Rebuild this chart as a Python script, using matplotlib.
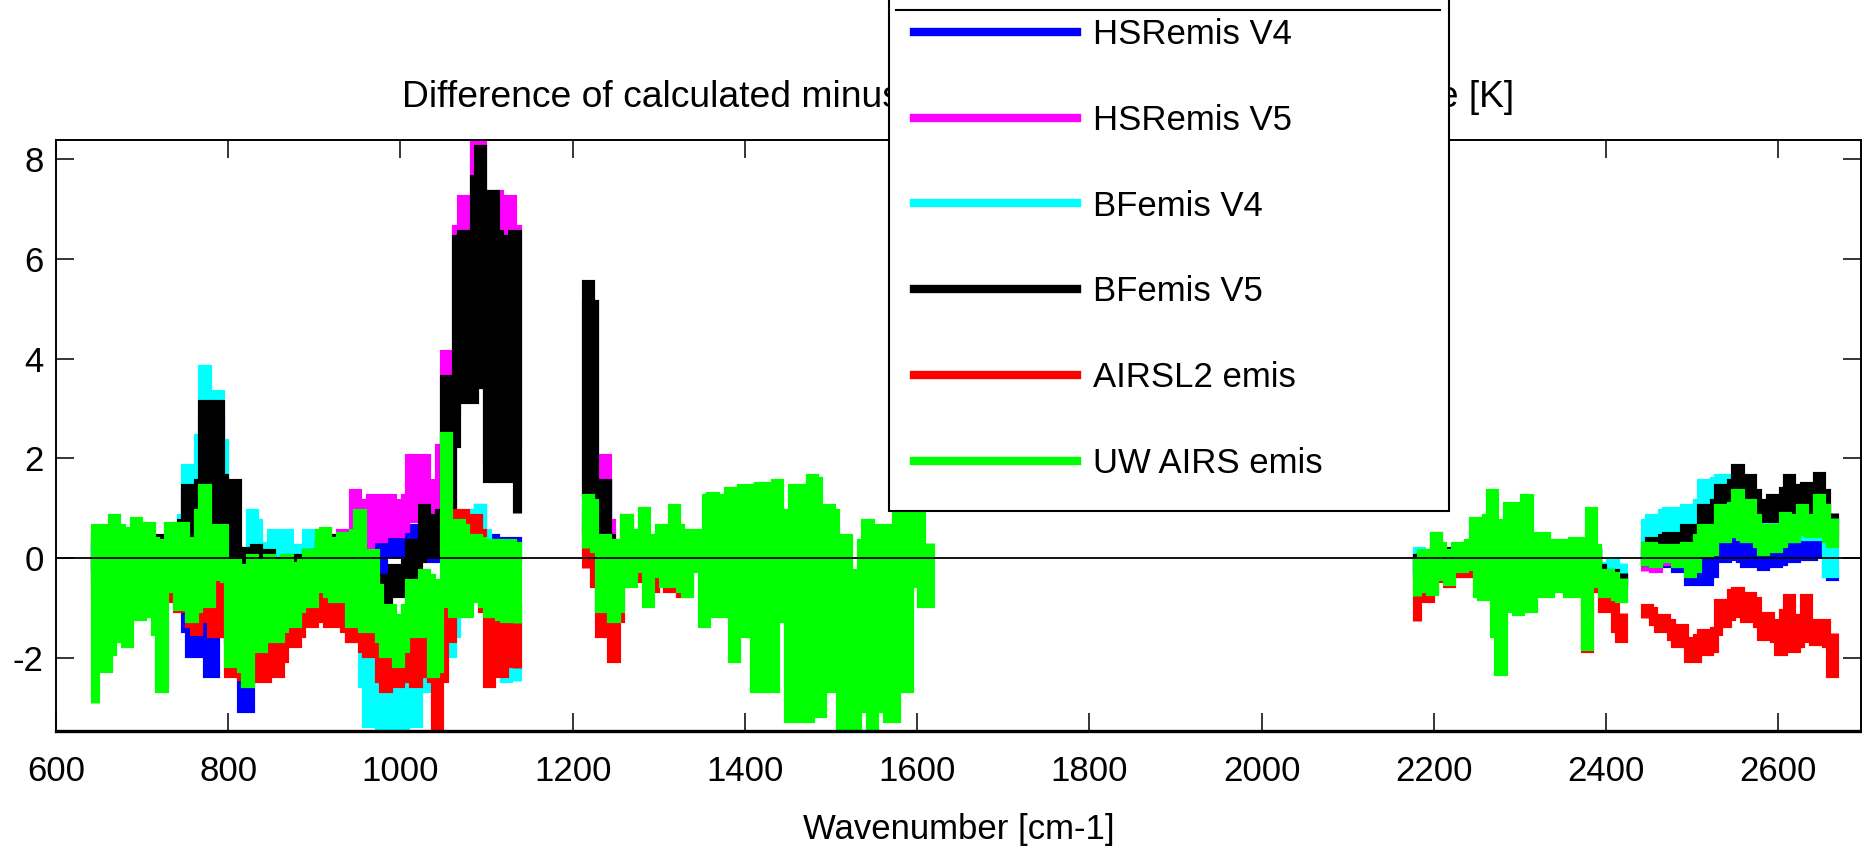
"""
Difference of calculated minus observed brightness temperature for six
emissivity sets, AIRS spectrum 650-2665 cm-1.
"""

import numpy as np
import matplotlib.pyplot as plt
from matplotlib.lines import Line2D
from matplotlib.patches import Rectangle

plt.rcParams['font.family'] = ['Liberation Sans', 'DejaVu Sans']
plt.rcParams['axes.unicode_minus'] = False

# =============================================================================
# Data: wavenumber grids per spectral segment, and (low, high) envelope of each
# curve at every grid point
# =============================================================================
WN_A = [645, 655, 665, 675, 685, 695, 705, 715, 725, 735,
        745, 755, 765, 775, 785, 795, 805, 815, 825, 835,
        845, 855, 865, 875, 885, 895, 905, 915, 925, 935,
        945, 955, 965, 975, 985, 995, 1005, 1015, 1025, 1035,
        1045, 1055, 1065, 1075, 1085, 1095, 1105, 1115, 1125, 1135]
WN_B = [1215, 1225, 1235, 1245, 1255, 1265, 1275, 1285, 1295, 1305,
        1315, 1325, 1335, 1345, 1355, 1365, 1375, 1385, 1395, 1405,
        1415, 1425, 1435, 1445, 1455, 1465, 1475, 1485, 1495, 1505,
        1515, 1525, 1535, 1545, 1555, 1565, 1575, 1585, 1595, 1605, 1615]
WN_C = [2180, 2190, 2200, 2210, 2220, 2230, 2240, 2250, 2260, 2270,
        2280, 2290, 2300, 2310, 2320, 2330, 2340, 2350, 2360, 2370,
        2380, 2390, 2400, 2410, 2420]
WN_D = [2445, 2455, 2465, 2475, 2485, 2495, 2505, 2515, 2525, 2535,
        2545, 2555, 2565, 2575, 2585, 2595, 2605, 2615, 2625, 2635,
        2645, 2655, 2665]

# HSRemis V4
hsr4_a = [(-0.5, 0.2), (-0.5, 0.2), (-0.5, 0.2), (-0.5, 0.2), (-0.5, 0.2),
          (-0.5, 0.2), (-0.5, 0.2), (-0.5, 0.2), (-0.5, 0.2), (-0.6, 0.1),
          (-0.8, 0.1), (-1.9, -1.4), (-1.9, -1.0), (-2.3, 0.0), (-2.3, -0.1),
          (-1.5, -0.8), (-1.6, -0.8), (-3.0, -2.1), (-3.0, -1.8), (-1.8, -0.8),
          (-1.0, -0.3), (-1.0, -0.3), (-1.0, -0.3), (-0.9, -0.3), (-0.8, -0.3),
          (-0.8, -0.4), (-0.8, -0.4), (-0.8, -0.4), (-0.6, -0.3), (-0.5, -0.2),
          (-0.4, 0.0), (-0.3, 0.2), (-0.6, 0.1), (-0.3, 0.5), (0.1, 0.55),
          (0.1, 0.55), (0.1, 0.6), (0.1, 0.6), (0.1, 0.5), (0.0, 0.3),
          (0.0, 0.3), (-0.2, 0.3), (0.0, 0.5), (0.1, 0.8), (0.2, 0.9),
          (0.3, 1.0), (-0.05, 0.4), (-0.1, 0.35), (-0.1, 0.35), (-0.1, 0.35)]
hsr4_b = [(0.5, 1.0), (0.0, 1.5), (-0.1, 1.5), (-0.2, 0.2)]
hsr4_c = [(-0.3, 0.0), (-0.2, 0.05), (-0.2, 0.1), (-0.2, 0.1), (-0.2, 0.1),
          (-0.25, 0.0), (-0.25, 0.0), (-0.2, 0.1), (-0.2, 0.1), (-0.2, 0.1),
          (-0.2, 0.1), (-0.2, 0.1), (-0.2, 0.1), (-0.2, 0.1), (-0.2, 0.1),
          (-0.2, 0.1), (-0.2, 0.1), (-0.2, 0.1), (-0.2, 0.1), (-0.2, 0.1),
          (-0.2, 0.1), (-0.2, 0.1), (-0.4, -0.2), (-0.45, -0.3), (-0.45, -0.3)]
hsr4_d = [(-0.05, 0.15), (-0.1, 0.1), (-0.1, 0.1), (-0.1, 0.1), (-0.2, 0.0),
          (-0.45, -0.05), (-0.45, -0.05), (-0.45, 0.1), (-0.3, 0.3), (0.0, 0.4),
          (0.05, 0.45), (0.0, 0.55), (-0.1, 0.6), (-0.1, 0.3), (-0.15, 0.3),
          (-0.1, 0.3), (-0.05, 0.35), (0.0, 0.45), (0.05, 0.4), (0.05, 0.35),
          (0.1, 0.4), (-0.3, 0.3), (-0.35, -0.2)]

# HSRemis V5
hsr5_a = [(-0.3, 0.3), (-0.3, 0.3), (-0.3, 0.3), (-0.3, 0.3), (-0.3, 0.3),
          (-0.3, 0.3), (-0.3, 0.3), (-0.3, 0.3), (-0.3, 0.3), (-0.3, 0.3),
          (-0.1, 0.5), (0.0, 1.3), (0.0, 1.4), (0.0, 2.8), (-0.2, 2.8),
          (-0.2, 1.4), (-0.5, 0.2), (-0.6, 0.0), (-0.6, 0.0), (-0.5, 0.0),
          (-0.5, 0.0), (-0.5, -0.1), (-0.5, -0.1), (-0.4, 0.0), (-0.4, 0.0),
          (-0.4, 0.2), (-0.4, 0.5), (-0.4, 0.4), (-0.3, 0.4), (-0.3, 0.5),
          (-0.2, 1.3), (-0.2, 1.1), (0.2, 1.2), (0.4, 1.2), (0.5, 1.2),
          (0.5, 1.1), (0.6, 1.2), (0.8, 2.0), (0.8, 2.0), (0.8, 1.5),
          (1.2, 2.2), (1.0, 4.1), (3.0, 6.6), (3.5, 7.2), (3.5, 8.3),
          (3.5, 8.4), (2.0, 7.3), (2.0, 7.3), (2.0, 7.2), (2.2, 6.6)]
hsr5_b = [(1.3, 5.1), (0.9, 5.1), (0.6, 2.0), (-0.2, 0.7)]
hsr5_c = [(-0.4, -0.1), (-0.3, 0.0), (-0.3, 0.1), (-0.3, 0.1), (-0.3, 0.1),
          (-0.3, 0.1), (-0.3, 0.1), (-0.3, 0.1), (-0.3, 0.1), (-0.3, 0.1),
          (-0.3, 0.1), (-0.3, 0.1), (-0.3, 0.1), (-0.3, 0.1), (-0.3, 0.1),
          (-0.3, 0.1), (-0.3, 0.1), (-0.3, 0.1), (-0.3, 0.1), (-0.3, 0.1),
          (-0.3, 0.1), (-0.3, 0.1), (-0.7, -0.4), (-0.8, -0.6), (-0.8, -0.6)]
hsr5_d = [(-0.25, 0.1), (-0.2, 0.1), (-0.05, 0.3), (-0.05, 0.3), (0.0, 0.3),
          (0.0, 0.35), (0.0, 0.4), (0.1, 0.6), (0.2, 0.7), (0.4, 1.1),
          (0.5, 1.1), (0.45, 1.3), (0.4, 1.1), (0.3, 0.9), (0.3, 0.8),
          (0.3, 0.8), (0.35, 0.9), (0.4, 0.95), (0.5, 1.0), (0.5, 0.9),
          (0.5, 1.2), (0.4, 1.0), (0.3, 0.8)]

# BFemis V4
bf4_a = [(-0.3, 0.3), (-0.3, 0.3), (-0.3, 0.3), (-0.3, 0.3), (-0.3, 0.3),
         (-0.3, 0.3), (-0.3, 0.3), (-0.3, 0.3), (-0.3, 0.3), (-0.3, 0.3),
         (-0.1, 0.8), (0.2, 1.8), (0.5, 2.4), (1.0, 3.8), (0.5, 3.3),
         (0.0, 2.3), (-0.2, 0.2), (-0.3, 0.15), (-0.1, 0.9), (-0.1, 0.7),
         (-0.2, 0.25), (-0.1, 0.5), (-0.2, 0.5), (-0.2, 0.2), (-0.2, 0.2),
         (-0.1, 0.5), (-0.1, 0.4), (-0.5, 0.3), (-0.5, 0.3), (-0.8, 0.2),
         (-1.6, -0.6), (-2.5, -1.5), (-3.3, -2.0), (-3.5, -2.3), (-3.5, -2.5),
         (-3.5, -2.5), (-3.5, -2.3), (-3.3, -2.3), (-2.6, -2.0), (-2.6, -1.8),
         (-1.9, -1.0), (-1.9, -1.0), (-1.5, 0.0), (-0.5, 0.3), (0.3, 0.9),
         (0.5, 1.0), (-1.0, 0.3), (-2.0, -1.0), (-2.4, -1.2), (-2.45, -1.0)]
bf4_b = [(0.3, 0.9), (-0.5, 0.5), (-1.2, 0.2), (-1.5, -0.8)]
bf4_c = [(-0.2, 0.15), (-0.1, 0.1), (-0.2, 0.1), (-0.2, 0.1), (-0.2, 0.1),
         (-0.2, 0.1), (-0.2, 0.1), (-0.2, 0.1), (-0.2, 0.1), (-0.2, 0.1),
         (-0.2, 0.1), (-0.2, 0.1), (-0.2, 0.1), (-0.2, 0.1), (-0.2, 0.1),
         (-0.2, 0.1), (-0.2, 0.1), (-0.2, 0.1), (-0.2, 0.1), (-0.2, 0.1),
         (-0.2, 0.1), (-0.2, 0.1), (-0.6, -0.15), (-0.6, -0.1), (-0.5, -0.1)]
bf4_d = [(0.2, 0.7), (0.3, 0.8), (0.6, 0.9), (0.6, 0.95), (0.65, 0.95),
         (0.65, 1.0), (0.7, 1.1), (1.1, 1.5), (1.2, 1.55), (1.3, 1.6),
         (1.3, 1.6), (0.9, 1.4), (0.6, 1.3), (0.4, 1.1), (0.4, 1.0),
         (0.4, 1.0), (0.4, 1.0), (0.4, 1.1), (0.45, 1.0), (0.45, 1.0),
         (0.45, 1.1), (-0.3, 0.6), (-0.3, 0.4)]

# BFemis V5
bf5_a = [(-0.2, 0.4), (-0.2, 0.4), (-0.2, 0.4), (-0.2, 0.4), (-0.2, 0.4),
         (-0.2, 0.4), (-0.2, 0.4), (-0.2, 0.4), (-0.2, 0.4), (-0.2, 0.4),
         (-0.1, 0.7), (0.1, 1.4), (0.1, 1.5), (0.0, 3.1), (0.0, 3.1),
         (-0.1, 1.6), (-1.5, 1.5), (-0.25, 0.15), (-0.25, 0.15), (-0.2, 0.2),
         (-0.2, 0.1), (-0.4, -0.05), (-0.5, -0.05), (-0.3, 0.0), (-0.15, 0.0),
         (-0.1, 0.1), (0.1, 0.3), (0.0, 0.3), (0.1, 0.4), (0.0, 0.4),
         (0.0, 0.3), (-0.1, 0.2), (-0.5, -0.1), (-1.0, -0.4), (-0.9, -0.4),
         (-0.7, -0.2), (-0.6, -0.1), (-0.4, 0.3), (0.0, 1.0), (0.1, 0.8),
         (0.2, 0.9), (0.5, 3.6), (2.3, 6.4), (3.2, 6.5), (3.2, 7.6),
         (3.5, 8.2), (1.6, 7.3), (1.6, 6.5), (1.6, 6.4), (0.9, 6.5)]
bf5_b = [(1.2, 5.5), (0.8, 5.1), (0.3, 1.5), (-0.3, 0.4)]
bf5_c = [(-0.4, 0.0), (-0.3, 0.05), (-0.2, 0.15), (-0.2, 0.15), (-0.2, 0.15),
         (-0.2, 0.15), (-0.2, 0.15), (-0.2, 0.15), (-0.2, 0.15), (-0.2, 0.15),
         (-0.2, 0.15), (-0.2, 0.15), (-0.2, 0.15), (-0.2, 0.15), (-0.2, 0.15),
         (-0.2, 0.15), (-0.2, 0.15), (-0.2, 0.15), (-0.2, 0.15), (-0.2, 0.15),
         (-0.2, 0.15), (-0.2, 0.15), (-0.5, -0.3), (-0.5, -0.3), (-0.5, -0.3)]
bf5_d = [(-0.15, 0.25), (0.15, 0.35), (0.15, 0.4), (0.2, 0.45), (0.25, 0.45),
         (0.3, 0.6), (0.3, 0.6), (0.5, 1.0), (0.6, 1.1), (0.9, 1.4),
         (1.0, 1.5), (1.1, 1.8), (1.1, 1.6), (0.9, 1.3), (0.8, 1.1),
         (0.8, 1.2), (0.9, 1.35), (1.0, 1.6), (0.9, 1.4), (0.9, 1.45),
         (1.0, 1.65), (0.6, 1.3), (0.5, 0.9)]

# AIRSL2 emis
l2_a = [(-0.8, -0.2), (-0.8, -0.2), (-0.8, -0.2), (-0.8, -0.2), (-0.8, -0.2),
        (-0.8, -0.2), (-0.8, -0.2), (-0.8, -0.2), (-0.8, -0.2), (-0.8, -0.2),
        (-1.0, -0.5), (-1.3, -0.9), (-1.45, -1.0), (-1.2, -0.5), (-1.5, -0.45),
        (-1.5, -0.6), (-2.3, -1.5), (-2.35, -2.0), (-2.3, -1.8), (-2.4, -1.8),
        (-2.4, -1.7), (-2.3, -1.5), (-2.0, -1.3), (-1.7, -0.9), (-1.5, -0.85),
        (-1.3, -0.7), (-1.2, -0.7), (-1.3, -0.7), (-1.3, -0.75), (-1.4, -0.7),
        (-1.6, -0.75), (-1.8, -1.2), (-1.9, -1.4), (-2.4, -1.75), (-2.6, -1.8),
        (-2.5, -1.8), (-2.4, -1.6), (-2.5, -1.5), (-2.3, -1.3), (-2.4, -1.3),
        (-3.5, -2.4), (-1.6, -0.6), (-0.2, 0.9), (-0.5, 0.9), (-0.5, 0.8),
        (-1.0, 0.5), (-2.5, -1.0), (-2.3, -1.0), (-2.1, -1.0), (-2.2, -1.0)]
l2_b = [(-0.2, 0.6), (-0.5, 0.4), (-1.5, -0.6), (-2.0, -0.9), (-1.2, -0.5),
        (-0.3, 0.8), (-0.4, 0.1), (-0.3, 0.0), (-0.6, -0.1), (-0.5, 0.0),
        (-0.6, 0.0), (-0.7, 0.1), (-0.6, 0.0)]
l2_c = [(-1.25, -0.5), (-0.8, -0.2), (-0.6, 0.45), (-0.4, 0.1), (-0.5, 0.0),
        (-0.3, 0.1), (-0.3, 0.1), (-0.3, 0.1), (-0.3, 0.1), (-0.3, 0.1),
        (-0.3, 0.1), (-0.3, 0.1), (-0.3, 0.1), (-0.3, 0.1), (-0.3, 0.1),
        (-0.3, 0.1), (-0.3, 0.1), (-0.3, 0.1), (-0.3, 0.1), (-0.3, 0.1),
        (-1.8, -0.5), (-0.6, 0.0), (-1.0, -0.5), (-1.4, -0.9), (-1.6, -1.1)]
l2_d = [(-1.2, -1.0), (-1.25, -1.05), (-1.4, -1.2), (-1.55, -1.3), (-1.7, -1.4),
        (-2.0, -1.65), (-2.0, -1.6), (-1.85, -1.5), (-1.8, -1.45), (-1.3, -0.9),
        (-1.15, -0.7), (-1.1, -0.65), (-1.2, -0.75), (-1.3, -0.85), (-1.55, -1.15),
        (-1.6, -1.3), (-1.85, -1.1), (-1.8, -0.8), (-1.7, -1.2), (-1.6, -0.8),
        (-1.65, -1.3), (-1.7, -1.3), (-2.3, -1.5)]

# UW AIRS emis
uw_a = [(-2.9, 0.6), (-2.2, 0.6), (-1.85, 0.8), (-1.6, 0.6), (-1.7, 0.55),
        (-1.15, 0.75), (-1.1, 0.65), (-1.45, 0.35), (-2.6, 0.3), (-0.6, 0.65),
        (-0.95, 0.65), (-1.2, 0.35), (-1.0, 0.9), (-0.9, 1.4), (-0.35, 0.6),
        (-0.4, 0.6), (-2.1, -0.1), (-2.2, -0.2), (-2.5, 0.0), (-1.8, -0.1),
        (-1.6, 0.0), (-1.6, -0.1), (-1.4, 0.0), (-1.3, -0.15), (-1.0, -0.05),
        (-0.9, 0.1), (-0.6, 0.5), (-0.7, 0.55), (-0.8, 0.35), (-0.8, 0.45),
        (-1.3, 0.5), (-1.4, 0.9), (-1.4, 0.1), (-1.6, -0.6), (-1.9, -1.0),
        (-2.1, -1.2), (-1.8, -1.0), (-1.5, -0.5), (-1.5, -0.3), (-2.3, -0.4),
        (-2.2, -0.5), (-0.9, 2.45), (-1.1, 0.7), (-1.1, 0.6), (-0.8, 0.4),
        (-0.9, 0.35), (-1.1, 0.3), (-1.15, 0.3), (-1.2, 0.3), (-1.3, 0.25)]
uw_b = [(0.2, 1.2), (0.2, 1.1), (-1.0, 0.4), (-1.2, 0.3), (-1.0, 0.3),
        (-0.5, 0.8), (-0.2, 0.5), (-0.9, 0.95), (-0.3, 0.4), (-0.5, 0.6),
        (-0.5, 1.0), (-0.6, 0.6), (-0.7, 0.5), (-0.2, 0.5), (-1.3, 1.2),
        (-1.1, 1.25), (-1.1, 1.2), (-2.0, 1.35), (-1.5, 1.4), (-1.5, 1.4),
        (-2.6, 1.45), (-2.6, 1.45), (-2.6, 1.5), (-1.2, 0.9), (-3.2, 1.4),
        (-3.2, 1.4), (-3.2, 1.6), (-3.1, 1.55), (-2.6, 1.0), (-2.6, 0.9),
        (-3.4, 0.4), (-3.5, -0.3), (-3.0, 0.3), (-3.5, 0.7), (-3.0, 0.6),
        (-3.2, 0.6), (-3.2, 0.9), (-2.6, 0.9), (-0.5, 0.9), (-0.9, 0.9),
        (-0.9, 0.3)]
uw_c = [(-0.75, -0.05), (-0.6, 0.1), (-0.65, 0.45), (-0.35, 0.25), (-0.45, 0.1),
        (-0.2, 0.25), (-0.15, 0.3), (-0.7, 0.75), (-0.75, 0.8), (-1.5, 1.3),
        (-2.25, 0.7), (-1.0, 1.05), (-1.05, 1.05), (-1.0, 1.2), (-0.7, 0.45),
        (-0.7, 0.45), (-0.6, 0.3), (-0.6, 0.3), (-0.7, 0.35), (-0.7, 0.35),
        (-1.75, 0.95), (-0.5, 0.2), (-0.7, -0.3), (-0.75, -0.35), (-0.8, -0.4)]
uw_d = [(-0.15, 0.25), (-0.1, 0.25), (0.0, 0.2), (0.0, 0.2), (-0.1, 0.2),
        (-0.3, 0.25), (-0.2, 0.4), (0.1, 0.6), (0.15, 0.6), (0.4, 1.0),
        (0.5, 1.05), (0.45, 1.3), (0.4, 1.1), (0.3, 0.8), (0.15, 0.6),
        (0.2, 0.6), (0.3, 0.85), (0.4, 0.8), (0.55, 1.0), (0.5, 0.8),
        (0.5, 1.2), (0.4, 1.0), (0.3, 0.8)]

LABELS = ['HSRemis V4', 'HSRemis V5', 'BFemis V4', 'BFemis V5',
          'AIRSL2 emis', 'UW AIRS emis']
COLORS = ['#0000ff', '#ff00ff', '#00ffff', '#000000', '#ff0000', '#00ff00']
SERIES = [
    [hsr4_a, hsr4_b, hsr4_c, hsr4_d],
    [hsr5_a, hsr5_b, hsr5_c, hsr5_d],
    [bf4_a, bf4_b, bf4_c, bf4_d],
    [bf5_a, bf5_b, bf5_c, bf5_d],
    [l2_a, l2_b, l2_c, l2_d],
    [uw_a, uw_b, uw_c, uw_d],
]
GRIDS = [WN_A, WN_B, WN_C, WN_D]


def zigzag(parts):
    """Noisy spectrum: the line runs up and down between the envelope values."""
    xs, ys = [], []
    for wn, pairs in zip(GRIDS, parts):
        for i, (w, (lo, hi)) in enumerate(zip(wn, pairs)):
            a, b = (lo, hi) if i % 2 == 0 else (hi, lo)
            xs += [w, w]
            ys += [a, b]
        xs.append(np.nan)
        ys.append(np.nan)
    return xs, ys


# =============================================================================
# Plot
# =============================================================================
W, H = 1862, 848
fig = plt.figure(figsize=(W / 100, H / 100), dpi=100)
ax = fig.add_axes([56 / W, 117 / H, 1805 / W, 591 / H])

for parts, color in zip(SERIES, COLORS):
    xs, ys = zigzag(parts)
    ax.plot(xs, ys, color=color, linewidth=6.6, drawstyle='steps-mid',
            solid_joinstyle='miter', solid_capstyle='butt')

ax.axhline(0, color='black', linewidth=1.3, zorder=5)

ax.set_xlim(600, 2696)
ax.set_ylim(-3.46, 8.38)
ax.set_xticks(range(600, 2700, 200))
ax.set_yticks([-2, 0, 2, 4, 6, 8])
ax.tick_params(direction='in', length=13, width=1.1, top=True, right=True,
               labelsize=25)
ax.tick_params(axis='x', pad=17)
ax.tick_params(axis='y', pad=9)
for side in ['top', 'left', 'right']:
    ax.spines[side].set_linewidth(1.4)
ax.spines['bottom'].set_linewidth(2.4)

ax.set_title('Difference of calculated minus observed brightness temperature [K]',
             fontsize=26.8, pad=24)
ax.set_xlabel('Wavenumber [cm-1]', fontsize=25, labelpad=18)

# legend box sits over the title and runs off the top of the figure
fig.add_artist(Rectangle((889 / W, 1 - 511 / H), 560 / W, 0.7,
                         transform=fig.transFigure, facecolor='white',
                         edgecolor='black', linewidth=1.5, zorder=4))
fig.add_artist(Line2D([896 / W, 1440 / W], [1 - 10 / H, 1 - 10 / H],
                      transform=fig.transFigure, color='black', linewidth=1.5,
                      zorder=6))
handles = [Line2D([], [], color=c, linewidth=6) for c in COLORS]
fig.legend(handles, LABELS, loc='upper left',
           bbox_to_anchor=(914 / W, 1 - 18 / H), frameon=False, fontsize=25,
           borderpad=0, borderaxespad=0, handlelength=4.7, handletextpad=0.45,
           labelspacing=1.52)

plt.savefig('out.png', dpi=100)
